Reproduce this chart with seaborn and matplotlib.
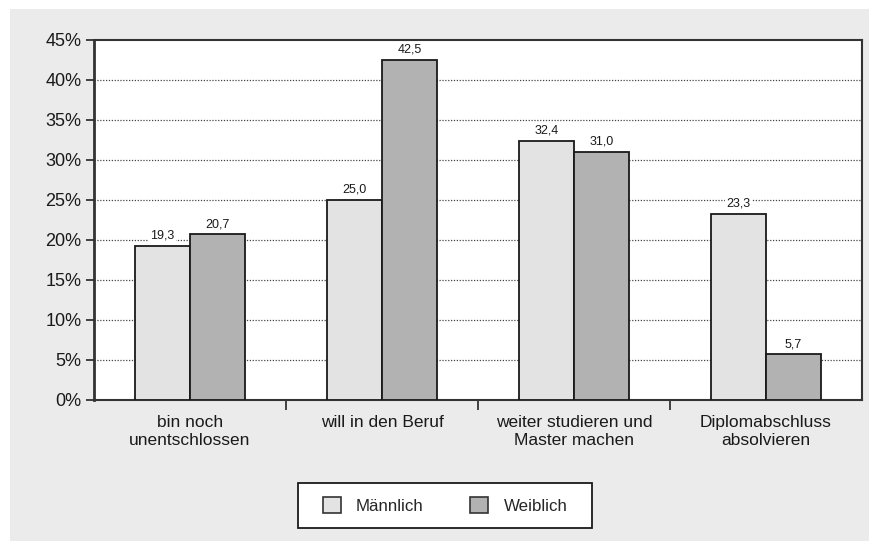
import matplotlib
matplotlib.use("Agg")
import matplotlib.pyplot as plt
from matplotlib.patches import Rectangle
import pandas as pd
import seaborn as sns

# Survey answers: plans after the current degree, by gender (in %)
categories = ["bin noch\nunentschlossen", "will in den Beruf",
              "weiter studieren und\nMaster machen", "Diplomabschluss\nabsolvieren"]
maennlich = [19.3, 25.0, 32.4, 23.3]
weiblich = [20.7, 42.5, 31.0, 5.7]
series_names = ["Männlich", "Weiblich"]
y_ticks = [0, 5, 10, 15, 20, 25, 30, 35, 40, 45]

df = pd.DataFrame({
    "Kategorie": categories * 2,
    "Anteil": maennlich + weiblich,
    "Geschlecht": [series_names[0]] * 4 + [series_names[1]] * 4,
})

sns.set_theme(style="white")
plt.rcParams["font.family"] = ["Liberation Sans", "DejaVu Sans"]

W, H = 870, 543
fig = plt.figure(figsize=(W / 100, H / 100), dpi=100)
fig.patch.set_facecolor("white")
# light grey panel behind everything
fig.add_artist(Rectangle((10 / W, 2 / H), 1, 532 / H, transform=fig.transFigure,
                         facecolor="#ebebeb", edgecolor="none", zorder=-10))

ax = fig.add_axes([94 / W, 143 / H, 768 / W, 360 / H])
ax.set_facecolor("white")

sns.barplot(data=df, x="Kategorie", y="Anteil", hue="Geschlecht",
            palette=["#e3e3e3", "#b2b2b2"], width=0.573, gap=0,
            edgecolor="#1a1a1a", linewidth=1.3, saturation=1,
            legend=False, ax=ax, zorder=3)

ax.set_xlim(-0.5, 3.5)
ax.set_ylim(0, 45)
ax.set_yticks(y_ticks)
ax.set_yticklabels([f"{t}%" for t in y_ticks], fontsize=13, color="#1a1a1a")
for t in y_ticks[1:-1]:
    ax.axhline(t, color="#444444", linestyle=(0, (1, 1.3)), linewidth=0.9, zorder=1)

# category boundary ticks and centred labels
ax.set_xticks([0.5, 1.5, 2.5])
ax.set_xticklabels([])
ax.set_xticks(range(len(categories)), minor=True)
ax.set_xticklabels(categories, minor=True, fontsize=12.5, color="#1a1a1a",
                   linespacing=1.2)
ax.tick_params(axis="x", which="major", direction="out", length=7, width=1.3,
               color="#333333", bottom=True)
ax.tick_params(axis="x", which="minor", length=0, pad=11)
ax.tick_params(axis="y", direction="out", length=6, width=1.3, color="#333333",
               left=True, pad=3)
ax.set_xlabel("")
ax.set_ylabel("")

for side in ["left", "bottom", "top", "right"]:
    ax.spines[side].set_visible(True)
    ax.spines[side].set_color("#333333")
ax.spines["left"].set_linewidth(2.0)
ax.spines["bottom"].set_linewidth(1.5)
ax.spines["top"].set_linewidth(1.5)
ax.spines["right"].set_linewidth(1.5)

for cont in ax.containers:
    vals = [b.get_height() for b in cont]
    ax.bar_label(cont, labels=[f"{v:.1f}".replace(".", ",") for v in vals],
                 padding=3, fontsize=9, color="#1a1a1a", zorder=4,
                 bbox=dict(facecolor="white", edgecolor="none", pad=1.0))

# legend: entries without frame, plus a plain white box around them
handles = [Rectangle((0, 0), 1, 1, facecolor=c, edgecolor="#333333", linewidth=1.2)
           for c in ["#e3e3e3", "#b2b2b2"]]
fig.add_artist(Rectangle((298 / W, (H - 528) / H), 294 / W, 45 / H,
                         transform=fig.transFigure, facecolor="white",
                         edgecolor="#1a1a1a", linewidth=1.3, zorder=5))
leg = fig.legend(handles, series_names, loc="center",
                 bbox_to_anchor=(445 / W, (H - 505.5) / H), ncol=2, frameon=False,
                 fontsize=12.2, handlelength=1.06, handleheight=1.06,
                 handletextpad=0.89, columnspacing=2.77, borderpad=0)
leg.set_zorder(6)

fig.savefig("out.png", dpi=100, facecolor="white")
